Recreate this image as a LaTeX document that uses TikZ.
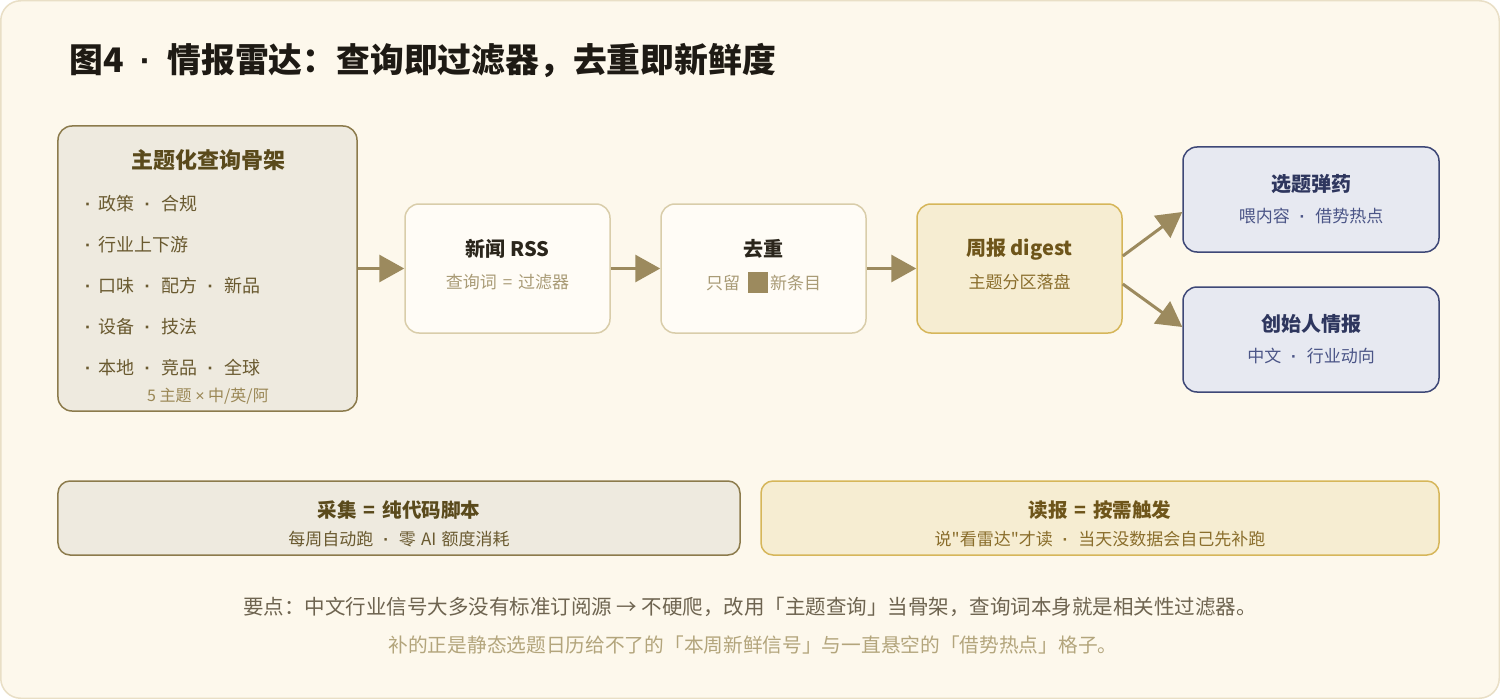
\documentclass[tikz,border=0pt]{standalone}
\usepackage{fontspec}
\setmainfont{Noto Sans CJK SC}[Ligatures=TeXOff]
\newfontfamily\latinf{Liberation Sans}[Ligatures=TeXOff]
\usetikzlibrary{arrows.meta}
\definecolor{bgc}{HTML}{FDF8EC}
\definecolor{bgb}{HTML}{E9DFC6}
\definecolor{lfill}{HTML}{EEEADF}
\definecolor{lborder}{HTML}{8C7B4C}
\definecolor{ltitle}{HTML}{5A4A1C}
\definecolor{litem}{HTML}{6A5A30}
\definecolor{lnote}{HTML}{9A8755}
\definecolor{wfill}{HTML}{FFFCF6}
\definecolor{wborder}{HTML}{D9CDAA}
\definecolor{wtitle}{HTML}{2B261C}
\definecolor{wsub}{HTML}{A99B76}
\definecolor{gfill}{HTML}{F6EDD2}
\definecolor{gborder}{HTML}{D6B65A}
\definecolor{gtitle}{HTML}{6E551A}
\definecolor{gsub}{HTML}{8A6E2C}
\definecolor{nfill}{HTML}{E7E9F1}
\definecolor{nborder}{HTML}{3E4877}
\definecolor{ntitle}{HTML}{2E365E}
\definecolor{nsub}{HTML}{4B5587}
\definecolor{arrc}{HTML}{9C8A5E}
\definecolor{foot1}{HTML}{6E6450}
\definecolor{foot2}{HTML}{B3A57C}
\definecolor{maintitle}{HTML}{1E1A14}
\newcommand{\setfs}[1]{\fontsize{#1bp}{#1bp}\selectfont}
\newcommand{\dsep}{\makebox[1.5em]{\latinf\bfseries ·}}
\newcommand{\lead}{\makebox[1.1em]{\latinf\bfseries ·}}
\newcommand{\eqs}{\hspace{0.35em}=\hspace{0.35em}}
\begin{document}
\begin{tikzpicture}[x=1bp,y=-1bp,
  boxbase/.style={rounded corners=14bp, line width=1.5bp, inner sep=0pt},
  lbox/.style={boxbase, draw=lborder, fill=lfill},
  wbox/.style={boxbase, draw=wborder, fill=wfill},
  gbox/.style={boxbase, draw=gborder, fill=gfill},
  nbox/.style={boxbase, draw=nborder, fill=nfill},
  ttl/.style={font=\setfs{20}\bfseries, inner sep=0pt},
  sub/.style={font=\setfs{17}, inner sep=0pt},
  item/.style={font=\setfs{18}, text=litem, anchor=west, inner sep=0pt},
  arr/.style={draw=arrc, line width=3bp, -{Triangle[length=25bp,width=27bp]}, fill=arrc}
]
\useasboundingbox (0,0) rectangle (1500,699);
\fill[white] (0,0) rectangle (1500,699);
\draw[fill=bgc, draw=bgb, line width=1.5bp, rounded corners=20bp] (0.75,0.75) rectangle (1499.25,698.25);

\node[anchor=west, font=\setfs{33.8}\bfseries, text=maintitle, inner sep=0pt] (title) at (69,61)
  {图4\makebox[1.3em]{\latinf\bfseries ·}情报雷达：查询即过滤器，去重即新鲜度};

% left topic box
\node[lbox, minimum width=299bp, minimum height=285bp] (topics) at (207.5,268.5) {};
\node[ttl, font=\setfs{22}\bfseries, text=ltitle] (topicsT) at (208,160) {主题化查询骨架};
\node[item] (i1) at (78,204) {\lead 政策\dsep 合规};
\node[item] (i2) at (78,245) {\lead 行业上下游};
\node[item] (i3) at (78,286) {\lead 口味\dsep 配方\dsep 新品};
\node[item] (i4) at (78,327) {\lead 设备\dsep 技法};
\node[item] (i5) at (78,368) {\lead 本地\dsep 竞品\dsep 全球};
\node[font=\setfs{16}, text=lnote, inner sep=0pt] (topicsN) at (208,396) {5 主题 {\latinf ×} 中/英/阿};

% RSS
\node[wbox, minimum width=205bp, minimum height=129bp] (rss) at (507.5,268.5) {};
\node[ttl, text=wtitle] (rssT) at (507.5,249) {新闻 RSS};
\node[sub, text=wsub] (rssS) at (507.5,282) {查询词\eqs 过滤器};

% dedup
\node[wbox, minimum width=205bp, minimum height=129bp] (dedup) at (763.5,268.5) {};
\node[ttl, text=wtitle] (dedupT) at (763.5,249) {去重};
\node[sub, text=wsub] (dedupS) at (763.5,282) {只留\hspace{8bp}\textcolor{arrc}{\rule[-0.16em]{20bp}{21bp}}\hspace{2bp}新条目};

% digest
\node[gbox, minimum width=205bp, minimum height=129bp] (digest) at (1019.5,268.5) {};
\node[ttl, text=gtitle] (digestT) at (1019.5,249) {周报 digest};
\node[sub, text=gsub] (digestS) at (1019.5,282) {主题分区落盘};

% outputs
\node[nbox, minimum width=256bp, minimum height=105bp] (ammo) at (1311,199.5) {};
\node[ttl, text=ntitle] (ammoT) at (1311,184) {选题弹药};
\node[sub, text=nsub] (ammoS) at (1311,216) {喂内容\dsep 借势热点};

\node[nbox, minimum width=256bp, minimum height=105bp] (founder) at (1311,339.5) {};
\node[ttl, text=ntitle] (founderT) at (1311,324) {创始人情报};
\node[sub, text=nsub] (founderS) at (1311,356) {中文\dsep 行业动向};

% arrows
\draw[arr] (topics.east |- rss.west) -- (rss.west);
\draw[arr] (rss) -- (dedup);
\draw[arr] (dedup) -- (digest);
\draw[arr] ([yshift=12.5bp]digest.east) -- ([yshift=-12.5bp]ammo.west);
\draw[arr] ([yshift=-15.5bp]digest.east) -- ([yshift=12.5bp]founder.west);

% bottom boxes
\node[lbox, rounded corners=12bp, minimum width=682bp, minimum height=74bp] (collect) at (399,518) {};
\node[ttl, font=\setfs{19.5}\bfseries, text=ltitle] (collectT) at (399,510) {采集\eqs 纯代码脚本};
\node[font=\setfs{17}, text=litem, inner sep=0pt] (collectS) at (399,539) {每周自动跑\dsep 零\hspace{0.3em}AI\hspace{0.3em}额度消耗};

\node[gbox, rounded corners=12bp, minimum width=678bp, minimum height=74bp] (read) at (1100,518) {};
\node[ttl, font=\setfs{19.5}\bfseries, text=gtitle] (readT) at (1100,510) {读报\eqs 按需触发};
\node[font=\setfs{17}, text=gsub, inner sep=0pt] (readS) at (1100,539) {说"看雷达"才读\dsep 当天没数据会自己先补跑};

% footer
\node[font=\setfs{20.5}, text=foot1, inner sep=0pt] (foot1) at (750,607)
  {要点：中文行业信号大多没有标准订阅源 → 不硬爬，改用「主题查询」当骨架，查询词本身就是相关性过滤器。};
\node[font=\setfs{19.7}, text=foot2, inner sep=0pt] (foot2) at (753,645)
  {补的正是静态选题日历给不了的「本周新鲜信号」与一直悬空的「借势热点」格子。};
\end{tikzpicture}
\end{document}
